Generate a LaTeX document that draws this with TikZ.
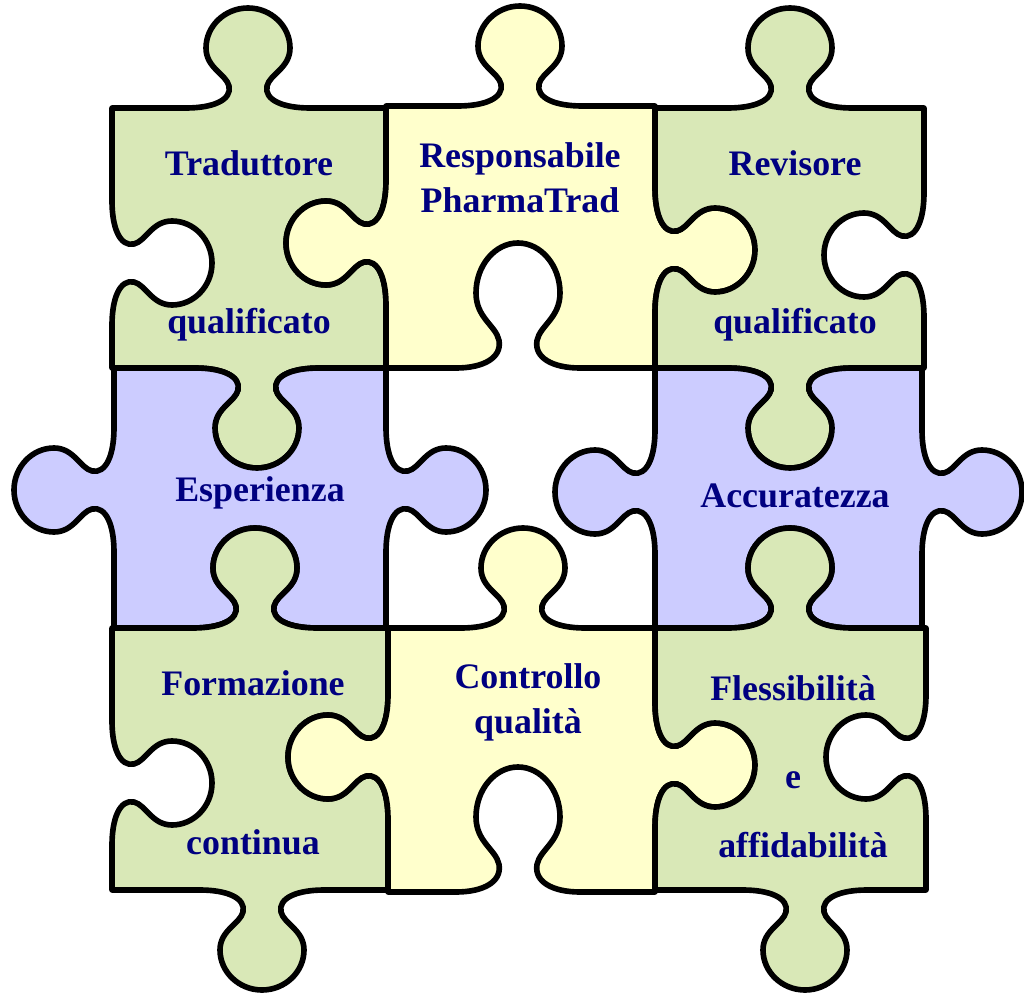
\documentclass[tikz,border=0pt]{standalone}
\usepackage{fontspec}
\setmainfont{Liberation Serif}

\definecolor{pzgreen}{HTML}{D9E8B7}
\definecolor{pzyellow}{HTML}{FFFFCC}
\definecolor{pzblue}{HTML}{CCCCFF}
\definecolor{pztext}{HTML}{000080}

\newcommand\puzedge[4]{{[shift={(#1,#2)},rotate=#3,yscale=#4]
  -- (-62,0) .. controls (-35,0) and (-16,8) .. (-19,22)
  .. controls (-22,34) and (-42,40) .. (-42,60)
  .. controls (-42,82) and (-23,100) .. (0,100)
  .. controls (23,100) and (42,82) .. (42,60)
  .. controls (42,40) and (22,34) .. (19,22)
  .. controls (16,8) and (35,0) .. (62,0)}}

\tikzset{
  piece/.style={draw=black,line width=1.6pt,line join=round},
  label/.style={text=pztext,font=\bfseries\fontsize{10.2}{12.8}\selectfont,align=center}
}

\begin{document}
\begin{tikzpicture}[x=0.01cm,y=0.01cm,yscale=-1]
		\useasboundingbox (0,0) rectangle (1024,997);

		\begin{scope}[every path/.style={piece}]
		    \filldraw[fill=pzgreen] (112,108) \puzedge{248}{108}{0}{-1} -- (386,108) \puzedge{386}{243}{90}{1}
		        -- (386,368) \puzedge{257}{368}{180}{-1} -- (112,368) \puzedge{112}{263}{270}{1} -- cycle;
		    \filldraw[fill=pzyellow] (386,106) \puzedge{520}{106}{0}{-1} -- (655,106) \puzedge{655}{250}{90}{-1}
		        -- (655,368) \puzedge{518}{368}{180}{1.25} -- (386,368) \puzedge{386}{243}{270}{-1} -- cycle;
		    \filldraw[fill=pzgreen] (655,108) \puzedge{790}{108}{0}{-1} -- (924,108) \puzedge{924}{255}{90}{1}
		        -- (924,368) \puzedge{790}{368}{180}{-1} -- (655,368) \puzedge{655}{250}{270}{1} -- cycle;

		    \filldraw[fill=pzblue] (114,368) \puzedge{257}{368}{0}{1} -- (386,368) \puzedge{386}{490}{90}{-1}
		        -- (386,628) \puzedge{255}{628}{180}{1} -- (114,628) \puzedge{114}{490}{270}{-1} -- cycle;
		    \filldraw[fill=pzblue] (655,368) \puzedge{790}{368}{0}{1} -- (922,368) \puzedge{922}{492}{90}{-1}
		        -- (922,628) \puzedge{790}{628}{180}{1} -- (655,628) \puzedge{655}{492}{270}{-1} -- cycle;

		    \filldraw[fill=pzgreen] (112,628) \puzedge{255}{628}{0}{-1} -- (388,628) \puzedge{388}{757}{90}{1}
		        -- (388,890) \puzedge{262}{890}{180}{-1} -- (112,890) \puzedge{112}{783}{270}{1} -- cycle;
		    \filldraw[fill=pzyellow] (388,628) \puzedge{523}{628}{0}{-1} -- (655,628) \puzedge{655}{765}{90}{-1}
		        -- (655,892) \puzedge{518}{892}{180}{1.25} -- (388,892) \puzedge{388}{757}{270}{-1} -- cycle;
		    \filldraw[fill=pzgreen] (655,628) \puzedge{790}{628}{0}{-1} -- (926,628) \puzedge{926}{757}{90}{1}
		        -- (926,890) \puzedge{805}{890}{180}{-1} -- (655,890) \puzedge{655}{765}{270}{1} -- cycle;
		\end{scope}

		\begin{scope}[every node/.style={label}]
		    \node (trad) at (249,163) {Traduttore};
		    \node (qual1) at (249,325) {qualificato};
		    \node (resp) at (520,178) {Responsabile\\PharmaTrad};
		    \node (rev) at (795,163) {Revisore};
		    \node (qual2) at (795,325) {qualificato};
		    \node (esp) at (260,493) {Esperienza};
		    \node (acc) at (795,496) {Accuratezza};
		    \node (form) at (253,683) {Formazione};
		    \node (cont) at (253,842) {continua};
		    \node (contr) at (528,702) {Controllo\\qualità};
		    \node (fless) at (793,688) {Flessibilità};
		    \node (econg) at (793,780) {e};
		    \node (affid) at (803,845) {affidabilità};
		\end{scope}
\end{tikzpicture}
\end{document}
